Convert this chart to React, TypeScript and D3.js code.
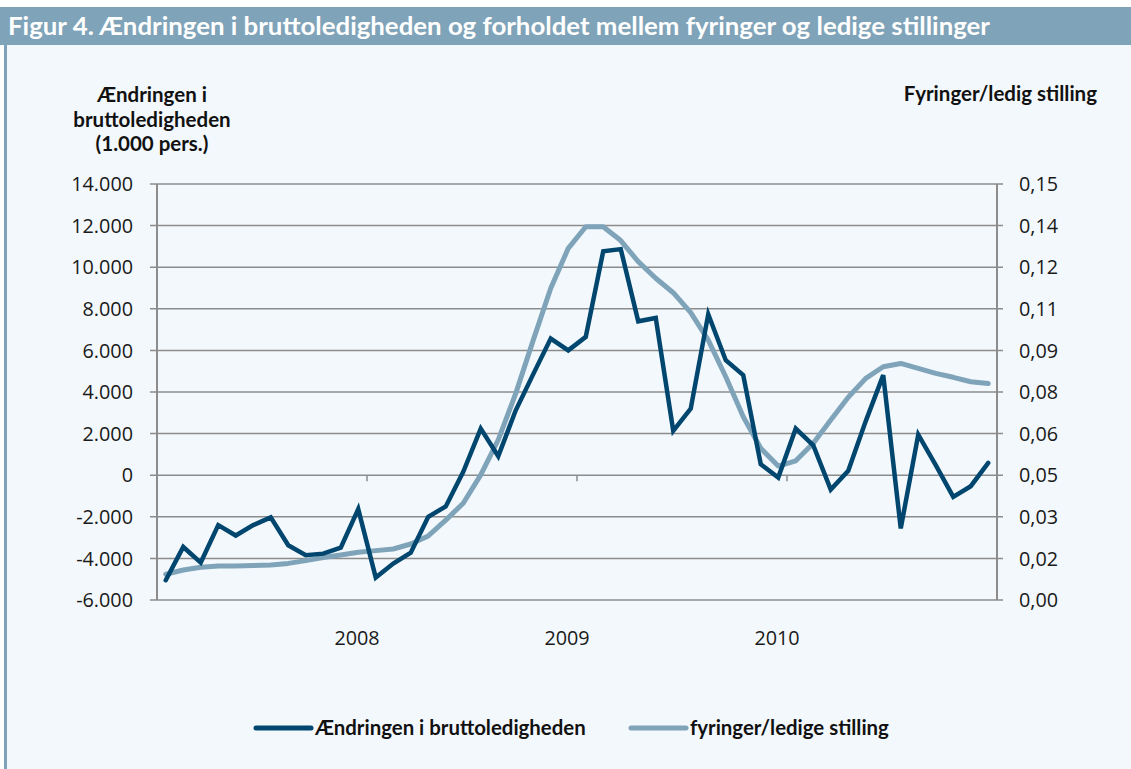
import { formatLocale, line, scaleLinear, scalePoint } from "d3";

// months Jan 2007 - Dec 2010
const years = [2007, 2008, 2009, 2010];
const months = ["01", "02", "03", "04", "05", "06", "07", "08", "09", "10", "11", "12"];
const categories = years.flatMap((y) => months.map((m) => `${y}-${m}`));

// Ændringen i bruttoledigheden (left axis)
const bruttoChange = [
  -5050, -3450, -4200, -2400, -2900, -2400, -2030, -3370, -3850, -3770, -3480, -1630,
  -4920, -4250, -3730, -2000, -1500, 160, 2240, 910, 3120, 4860, 6570, 6000,
  6650, 10770, 10870, 7400, 7560, 2130, 3200, 7740, 5530, 4810, 530, -110,
  2240, 1440, -690, 210, 2600, 4810, -2560, 1950, 480, -1040, -530, 590,
];

// fyringer/ledige stilling (right axis)
const fyringerRatio = [
  0.0093, 0.0108, 0.0118, 0.0123, 0.0123, 0.0124, 0.0126, 0.0132, 0.0142, 0.0153, 0.0162, 0.0172,
  0.0178, 0.0184, 0.0202, 0.0231, 0.0288, 0.0349, 0.0451, 0.0577, 0.0745, 0.0937, 0.1124, 0.1268,
  0.1346, 0.1346, 0.1296, 0.122, 0.116, 0.1108, 0.1036, 0.0937, 0.0805, 0.0661, 0.0547, 0.0483,
  0.0502, 0.0565, 0.0649, 0.0731, 0.0799, 0.0841, 0.0853, 0.0835, 0.0817, 0.0803, 0.0787, 0.0781,
];

const leftTicks = [-6000, -4000, -2000, 0, 2000, 4000, 6000, 8000, 10000, 12000, 14000];
const rightTicks = [0, 0.015, 0.03, 0.045, 0.06, 0.075, 0.09, 0.105, 0.12, 0.135, 0.15];
const rightTickLabels = ["0,00", "0,02", "0,03", "0,05", "0,06", "0,08", "0,09", "0,11", "0,12", "0,14", "0,15"];
const yearLabels = ["2008", "2009", "2010"];

const dk = formatLocale({ decimal: ",", thousands: ".", grouping: [3], currency: ["", " kr"], minus: "-" });
const fmt = dk.format(",.0f");

const DARK = "#00466e";
const LIGHT = "#7fa4ba";
const BAR = "#7fa3b8";
const GRID = "#8c8c8c";
const BG = "#f3f8fc";

const tickFont = "'Open Sans', sans-serif";
const boldFont = "Lato, sans-serif";

export default function App() {
  const x = scalePoint<string>().domain(categories).range([157, 997]).padding(0.5);
  const yL = scaleLinear().domain([-6000, 14000]).range([600, 184]);
  const yR = scaleLinear().domain([0, 0.15]).range([600, 184]);
  const step = x.step();

  const darkPath = line<number>()
    .x((_, i) => x(categories[i])!)
    .y((d) => yL(d))(bruttoChange);
  const lightPath = line<number>()
    .x((_, i) => x(categories[i])!)
    .y((d) => yR(d))(fyringerRatio);

  // year boundaries (tick marks on the 0 line)
  const boundaries = years.map((y) => x(`${y}-01`)! - step / 2).concat([997]);

  return (
    <div style={{ position: "absolute", left: 0, top: 0 }}>
      <svg width={1131} height={769}>
        <rect x={0} y={0} width={1131} height={769} fill="#fff" />
        <rect x={0} y={7} width={1131} height={38} fill={BAR} />
        <text x={8} y={35} fill="#fff" fontFamily={boldFont} fontWeight={700} fontSize={24}
          textLength={982} lengthAdjust="spacingAndGlyphs">
          Figur 4. Ændringen i bruttoledigheden og forholdet mellem fyringer og ledige stillinger
        </text>
        <rect x={4} y={45} width={1127} height={724} fill={BG} />
        <rect x={4} y={45} width={3} height={724} fill={BAR} />

        {/* axis titles */}
        <g fontFamily={boldFont} fontWeight={700} fontSize={20.5} fill="#111">
          <text x={152} y={102} textAnchor="middle">Ændringen i</text>
          <text x={152} y={127} textAnchor="middle">bruttoledigheden</text>
          <text x={152} y={151} textAnchor="middle">(1.000 pers.)</text>
          <text x={1097} y={101} textAnchor="end">Fyringer/ledig stilling</text>
        </g>

        {/* gridlines */}
        {leftTicks.map((t) => (
          <line key={t} x1={150} x2={1003} y1={yL(t)} y2={yL(t)} stroke={GRID} strokeWidth={1.5} />
        ))}
        <line x1={157} x2={157} y1={184} y2={600} stroke={GRID} strokeWidth={2} />
        <line x1={997} x2={997} y1={184} y2={600} stroke={GRID} strokeWidth={2} />
        {boundaries.map((b, i) => (
          <line key={i} x1={b} x2={b} y1={yL(0)} y2={yL(0) + 6} stroke={GRID} strokeWidth={1.5} />
        ))}

        {/* tick labels */}
        <g fontFamily={tickFont} fontSize={19.8} fill="#1a1a1a">
          {leftTicks.map((t) => (
            <text key={t} x={133} y={yL(t)} dy="0.36em" textAnchor="end">{fmt(t)}</text>
          ))}
          {rightTicks.map((t, i) => (
            <text key={t} x={1019} y={yR(t)} dy="0.36em">{rightTickLabels[i]}</text>
          ))}
          {yearLabels.map((l) => (
            <text key={l} x={x(`${l}-01`)! - step / 2 - 10} y={645} textAnchor="middle">{l}</text>
          ))}
        </g>

        {/* series */}
        <path d={lightPath!} fill="none" stroke={LIGHT} strokeWidth={5} strokeLinejoin="round" strokeLinecap="round" />
        <path d={darkPath!} fill="none" stroke={DARK} strokeWidth={4.5} strokeLinejoin="miter" strokeLinecap="round" />

        {/* legend */}
        <line x1={256} x2={311} y1={728} y2={728} stroke={DARK} strokeWidth={5} strokeLinecap="round" />
        <line x1={631} x2={686} y1={728} y2={728} stroke={LIGHT} strokeWidth={5} strokeLinecap="round" />
        <g fontFamily={boldFont} fontWeight={700} fontSize={20.4} fill="#111">
          <text x={315} y={735}>Ændringen i bruttoledigheden</text>
          <text x={690} y={735}>fyringer/ledige stilling</text>
        </g>
      </svg>
    </div>
  );
}
